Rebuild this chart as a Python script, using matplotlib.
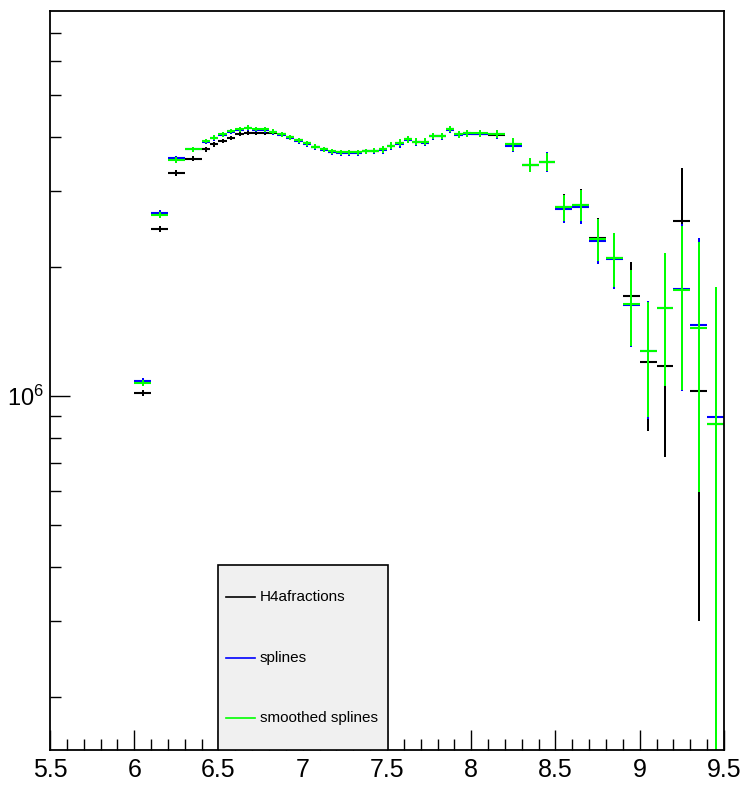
import numpy as np
import matplotlib
matplotlib.use("Agg")
import matplotlib.pyplot as plt
from matplotlib import ticker, font_manager
from matplotlib.patches import Rectangle

# narrow helvetica-like font if we have it (ROOT look)
names = set(f.name for f in font_manager.fontManager.ttflist)
fam = "Liberation Sans Narrow" if "Liberation Sans Narrow" in names else "Liberation Sans"
plt.rcParams['font.family'] = fam
plt.rcParams['mathtext.default'] = 'regular'

# bin edges (variable binning)
edges = [6.0, 6.1, 6.2, 6.3, 6.4,
         6.45, 6.5, 6.55, 6.6, 6.65, 6.7, 6.75, 6.8, 6.85, 6.9, 6.95, 7.0,
         7.05, 7.1, 7.15, 7.2, 7.25, 7.3, 7.35, 7.4, 7.45, 7.5, 7.55, 7.6,
         7.65, 7.7, 7.75, 7.8, 7.85, 7.9, 7.95, 8.0,
         8.1, 8.2, 8.3, 8.4, 8.5, 8.6, 8.7, 8.8, 8.9, 9.0, 9.1, 9.2, 9.3, 9.4, 9.5]

# contents in units of 1e6
h4a = [1.016, 2.446, 3.301, 3.563, 3.747, 3.848, 3.918, 3.988, 4.061, 4.097,
       4.097, 4.097, 4.083, 4.061, 4.003, 3.929, 3.866, 3.800, 3.747, 3.700,
       3.684, 3.684, 3.684, 3.713, 3.719, 3.747, 3.820, 3.882, 3.954, 3.903,
       3.903, 4.024, 4.024, 4.172, 4.061, 4.083, 4.075, 4.046, 3.848, 3.445,
       3.507, 2.744, 2.782, 2.334, 2.097, 1.711, 1.198, 1.176, 2.553, 1.027,
       0.859]
h4a_err = [0.015, 0.04, 0.045, 0.045, 0.045, 0.045, 0.045, 0.045, 0.045, 0.045,
           0.045, 0.045, 0.045, 0.045, 0.045, 0.045, 0.045, 0.045, 0.045, 0.045,
           0.05, 0.05, 0.05, 0.05, 0.05, 0.06, 0.06, 0.06, 0.06, 0.06,
           0.06, 0.06, 0.06, 0.06, 0.06, 0.06, 0.06, 0.08, 0.12, 0.13,
           0.17, 0.20, 0.24, 0.256, 0.29, 0.342, 0.369, 0.453, 0.843, 0.727,
           0.80]

spl = [1.084, 2.664, 3.568, 3.745, 3.905, 3.975, 4.050, 4.120, 4.160, 4.195,
       4.165, 4.155, 4.105, 4.050, 3.985, 3.918, 3.850, 3.790, 3.740, 3.685,
       3.676, 3.676, 3.676, 3.705, 3.710, 3.725, 3.812, 3.862, 3.946, 3.895,
       3.885, 4.016, 4.016, 4.160, 4.052, 4.075, 4.075, 4.060, 3.820, 3.445,
       3.507, 2.722, 2.756, 2.297, 2.088, 1.628, 1.274, 1.606, 1.769, 1.463,
       0.894]
spl_err = [0.017, 0.04, 0.05, 0.05, 0.055, 0.055, 0.055, 0.055, 0.055, 0.055,
           0.055, 0.055, 0.055, 0.055, 0.055, 0.055, 0.055, 0.055, 0.055, 0.055,
           0.055, 0.055, 0.055, 0.055, 0.055, 0.08, 0.08, 0.08, 0.08, 0.08,
           0.08, 0.08, 0.08, 0.08, 0.08, 0.08, 0.08, 0.09, 0.13, 0.135,
           0.18, 0.19, 0.24, 0.27, 0.31, 0.33, 0.39, 0.55, 0.74, 0.863,
           0.90]

smooth = [1.072, 2.636, 3.539, 3.753, 3.918, 3.988, 4.061, 4.134, 4.172, 4.207,
          4.178, 4.168, 4.119, 4.061, 3.996, 3.929, 3.870, 3.800, 3.750, 3.704,
          3.684, 3.684, 3.684, 3.713, 3.719, 3.747, 3.820, 3.882, 3.954, 3.903,
          3.903, 4.024, 4.024, 4.172, 4.061, 4.083, 4.083, 4.068, 3.848, 3.445,
          3.507, 2.744, 2.782, 2.318, 2.097, 1.634, 1.274, 1.606, 1.760, 1.437,
          0.859]
smooth_err = [0.017, 0.04, 0.05, 0.05, 0.05, 0.05, 0.05, 0.05, 0.05, 0.05,
              0.05, 0.05, 0.05, 0.05, 0.05, 0.05, 0.05, 0.05, 0.05, 0.05,
              0.05, 0.05, 0.05, 0.05, 0.05, 0.07, 0.07, 0.07, 0.07, 0.07,
              0.07, 0.07, 0.07, 0.07, 0.07, 0.07, 0.08, 0.09, 0.125, 0.131,
              0.173, 0.19, 0.23, 0.26, 0.30, 0.33, 0.38, 0.55, 0.73, 0.838,
              0.937]

labels = ["H4afractions", "splines", "smoothed splines"]
colors = ["black", "#0000ff", "#00ff00"]

fig = plt.figure(figsize=(7.44, 7.85), dpi=100)
ax = fig.add_axes([0.0672, 0.0446, 0.9059, 0.9414])

def draw_hist(vals, errs, col):
    e = np.array(edges)
    v = np.array(vals) * 1e6
    er = np.array(errs) * 1e6
    ax.hlines(v, e[:-1], e[1:], colors=col, lw=1.5)
    c = 0.5 * (e[:-1] + e[1:])
    lo = np.clip(v - er, 1e4, None)
    ax.vlines(c, lo, v + er, colors=col, lw=1.2, antialiased=False)

draw_hist(h4a, h4a_err, colors[0])
draw_hist(spl, spl_err, colors[1])
draw_hist(smooth, smooth_err, colors[2])

ax.set_yscale('log')
ax.set_xlim(5.5, 9.5)
ax.set_ylim(1.502e5, 7.86e6)

ax.xaxis.set_major_locator(ticker.MultipleLocator(0.5))
ax.xaxis.set_minor_locator(ticker.MultipleLocator(0.1))
ax.xaxis.set_major_formatter(ticker.FuncFormatter(lambda x, p: "%g" % x))
ax.yaxis.set_major_locator(ticker.LogLocator(base=10, subs=(1.0,)))
ax.yaxis.set_minor_locator(ticker.LogLocator(base=10, subs=np.arange(2, 10)))
ax.yaxis.set_minor_formatter(ticker.NullFormatter())

ax.tick_params(which='both', direction='in', top=False, right=False, width=1.0)
ax.tick_params(which='major', length=14.5, pad=6)
ax.tick_params(which='minor', length=8)
ax.tick_params(axis='x', which='major', labelsize=18)
ax.tick_params(axis='y', which='major', labelsize=17, pad=4)
for s in ax.spines.values():
    s.set_linewidth(1.3)

# legend box, ROOT style
ax.add_patch(Rectangle((0.249, 0.0), 0.252, 0.25, transform=ax.transAxes,
                       facecolor='#f0f0f0', edgecolor='black', lw=1.2, zorder=5))
ys = [0.207, 0.1245, 0.0433]
for lab, col, yy in zip(labels, colors, ys):
    ax.plot([0.261, 0.304], [yy, yy], color=col, lw=1.2, transform=ax.transAxes, zorder=6)
    ax.text(0.3116, yy, lab, transform=ax.transAxes, fontsize=11, va='center', ha='left', zorder=6)

fig.savefig("out.png", dpi=100)
